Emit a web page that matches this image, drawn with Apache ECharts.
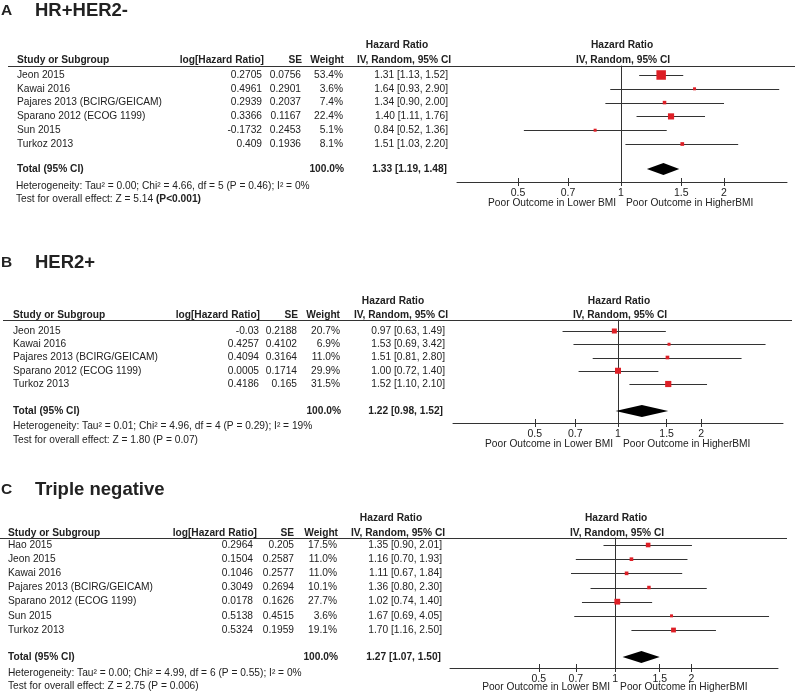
<!DOCTYPE html>
<html><head><meta charset="utf-8">
<script src="https://cdn.jsdelivr.net/npm/echarts@6/dist/echarts.min.js"></script>
<style>html,body{margin:0;padding:0;background:#fff}#c{width:796px;height:697px}</style>
</head><body><div id="c"></div>
<script>
// ---------------- DATA ----------------
const tickValues = [0.5, 0.7, 1, 1.5, 2];
const tickLabels = ['0.5', '0.7', '1', '1.5', '2'];
const leftOutcome = 'Poor Outcome in Lower BMI';
const rightOutcome = 'Poor Outcome in HigherBMI';

// Panel A: HR+HER2-
const studiesA = ['Jeon 2015', 'Kawai 2016', 'Pajares 2013 (BCIRG/GEICAM)', 'Sparano 2012 (ECOG 1199)', 'Sun 2015', 'Turkoz 2013'];
const logHrA = [0.2705, 0.4961, 0.2939, 0.3366, -0.1732, 0.409];
const seA = [0.0756, 0.2901, 0.2037, 0.1167, 0.2453, 0.1936];
const weightA = [53.4, 3.6, 7.4, 22.4, 5.1, 8.1];
const hrA = [1.31, 1.64, 1.34, 1.40, 0.84, 1.51];
const lowA = [1.13, 0.93, 0.90, 1.11, 0.52, 1.03];
const highA = [1.52, 2.90, 2.00, 1.76, 1.36, 2.20];
const totalA = [1.33, 1.19, 1.48];
const hetA = 'Heterogeneity: Tau² = 0.00; Chi² = 4.66, df = 5 (P = 0.46); I² = 0%';
const testA = ['Test for overall effect: Z = 5.14 ', '(P<0.001)'];

// Panel B: HER2+
const studiesB = ['Jeon 2015', 'Kawai 2016', 'Pajares 2013 (BCIRG/GEICAM)', 'Sparano 2012 (ECOG 1199)', 'Turkoz 2013'];
const logHrB = [-0.03, 0.4257, 0.4094, 0.0005, 0.4186];
const seB = [0.2188, 0.4102, 0.3164, 0.1714, 0.165];
const weightB = [20.7, 6.9, 11.0, 29.9, 31.5];
const hrB = [0.97, 1.53, 1.51, 1.00, 1.52];
const lowB = [0.63, 0.69, 0.81, 0.72, 1.10];
const highB = [1.49, 3.42, 2.80, 1.40, 2.10];
const totalB = [1.22, 0.98, 1.52];
const hetB = 'Heterogeneity: Tau² = 0.01; Chi² = 4.96, df = 4 (P = 0.29); I² = 19%';
const testB = ['Test for overall effect: Z = 1.80 (P = 0.07)', ''];

// Panel C: Triple negative
const studiesC = ['Hao 2015', 'Jeon 2015', 'Kawai 2016', 'Pajares 2013 (BCIRG/GEICAM)', 'Sparano 2012 (ECOG 1199)', 'Sun 2015', 'Turkoz 2013'];
const logHrC = [0.2964, 0.1504, 0.1046, 0.3049, 0.0178, 0.5138, 0.5324];
const seC = [0.205, 0.2587, 0.2577, 0.2694, 0.1626, 0.4515, 0.1959];
const weightC = [17.5, 11.0, 11.0, 10.1, 27.7, 3.6, 19.1];
const hrC = [1.35, 1.16, 1.11, 1.36, 1.02, 1.67, 1.70];
const lowC = [0.90, 0.70, 0.67, 0.80, 0.74, 0.69, 1.16];
const highC = [2.01, 1.93, 1.84, 2.30, 1.40, 4.05, 2.50];
const totalC = [1.27, 1.07, 1.50];
const hetC = 'Heterogeneity: Tau² = 0.00; Chi² = 4.99, df = 6 (P = 0.55); I² = 0%';
const testC = ['Test for overall effect: Z = 2.75 (P = 0.006)', ''];

// ---------------- LAYOUT ----------------
const FONT = 'Arial, "Liberation Sans", sans-serif';
const FS = 10.2;
const TXT = '#222';
const LINE = '#333';
const RED = '#dd1f26';

const panels = [
  { letter: 'A', title: 'HR+HER2-', studies: studiesA, logHr: logHrA, se: seA, w: weightA, hr: hrA, lo: lowA, hi: highA, total: totalA, het: hetA, test: testA,
    L: { titleY: 10.5, head1Y: 45, head2Y: 60, lineY: 66, lineX1: 8, lineX2: 795, row0: 75, step: 13.8, gap: 1.81, axisY: 182, hetY: 186, testY: 199, outY: 203,
         left: 457, right: 787, xMin: -1.104, xMax: 1.117, nameX: 17, hetX: 16, logHeadR: 264, logValR: 262, seHeadR: 302, seValR: 301, wHeadR: 344, wValR: 343,
         hrValR: 448, totHrR: 447, hrHead1C: 397, hrHead2C: 404, sqK: 1.3 } },
  { letter: 'B', title: 'HER2+', studies: studiesB, logHr: logHrB, se: seB, w: weightB, hr: hrB, lo: lowB, hi: highB, total: totalB, het: hetB, test: testB,
    L: { titleY: 263, head1Y: 301, head2Y: 315, lineY: 320, lineX1: 3, lineX2: 792, row0: 331, step: 13.25, gap: 2.04, axisY: 423, hetY: 426, testY: 440, outY: 444,
         left: 453, right: 783, xMin: -1.375, xMax: 1.375, nameX: 13, hetX: 13, logHeadR: 260, logValR: 259, seHeadR: 298, seValR: 297, wHeadR: 340, wValR: 340,
         hrValR: 445, totHrR: 443, hrHead1C: 393, hrHead2C: 401, sqK: 1.1 } },
  { letter: 'C', title: 'Triple negative', studies: studiesC, logHr: logHrC, se: seC, w: weightC, hr: hrC, lo: lowC, hi: highC, total: totalC, het: hetC, test: testC,
    L: { titleY: 490, head1Y: 518, head2Y: 533, lineY: 538, lineX1: 0, lineX2: 787, row0: 545, step: 14.17, gap: 1.9, axisY: 668, hetY: 673, testY: 686, outY: 687,
         left: 450, right: 778, xMin: -1.5, xMax: 1.48, nameX: 8, hetX: 8, logHeadR: 257, logValR: 253, seHeadR: 294, seValR: 294, wHeadR: 338, wValR: 337,
         hrValR: 442, totHrR: 441, hrHead1C: 391, hrHead2C: 398, sqK: 1.1 } }
];

const lnTicks = tickValues.map(Math.log);
function tickFmt(v) {
  let best = 0;
  lnTicks.forEach((t, k) => { if (Math.abs(t - v) < Math.abs(lnTicks[best] - v)) best = k; });
  return tickLabels[best];
}
const hrText = (e, l, h) => e.toFixed(2) + ' [' + l.toFixed(2) + ', ' + h.toFixed(2) + ']';

const chart = echarts.init(document.getElementById('c'), null, { renderer: 'canvas' });
const grid = [], xAxis = [], yAxis = [], series = [];

panels.forEach((p, i) => {
  const L = p.L;
  const n = p.studies.length;
  const totIdx = n - 1 + L.gap;
  grid.push({ left: L.left, width: L.right - L.left, top: L.lineY, height: L.axisY - L.lineY, containLabel: false });
  const xi = xAxis.length;
  xAxis.push({
    type: 'value', gridIndex: i, min: L.xMin, max: L.xMax, position: 'bottom',
    axisLine: { show: true, onZero: false, lineStyle: { color: LINE, width: 1 } },
    axisTick: { show: true, inside: false, length: 4, customValues: lnTicks, lineStyle: { color: LINE, width: 1 } },
    axisLabel: { show: true, customValues: lnTicks, formatter: tickFmt, margin: 5.5, color: TXT, fontSize: 10.5, fontFamily: FONT },
    splitLine: { show: false }
  });
  xAxis.push({
    type: 'value', gridIndex: i, min: L.xMin, max: L.xMax, position: 'bottom',
    axisLine: { show: false, onZero: false },
    axisTick: { show: true, inside: true, length: 4, customValues: lnTicks, lineStyle: { color: LINE, width: 1 } },
    axisLabel: { show: false },
    splitLine: { show: false }
  });
  yAxis.push({
    type: 'value', gridIndex: i, inverse: true,
    min: (L.lineY - L.row0) / L.step, max: (L.axisY - L.row0) / L.step,
    axisLine: { show: true, onZero: true, lineStyle: { color: LINE, width: 1 } },
    axisTick: { show: false }, axisLabel: { show: false }, splitLine: { show: false }
  });
  // whiskers
  series.push({
    type: 'custom', xAxisIndex: xi, yAxisIndex: i, z: 2,
    data: p.studies.map((s, r) => [Math.log(p.lo[r]), Math.log(p.hi[r]), r]),
    encode: { x: [0, 1], y: 2 },
    renderItem: (params, api) => {
      const a = api.coord([api.value(0), api.value(2)]);
      const b = api.coord([api.value(1), api.value(2)]);
      const y = Math.round(a[1]) + 0.5;
      return { type: 'line', shape: { x1: a[0], y1: y, x2: b[0], y2: y }, style: { stroke: LINE, lineWidth: 1 } };
    }
  });
  // squares
  series.push({
    type: 'scatter', xAxisIndex: xi, yAxisIndex: i, z: 3, symbol: 'rect',
    itemStyle: { color: RED, opacity: 1 },
    data: p.studies.map((s, r) => ({ value: [Math.log(p.hr[r]), r], symbolSize: Math.max(3, L.sqK * Math.sqrt(p.w[r])) }))
  });
  // diamond
  series.push({
    type: 'custom', xAxisIndex: xi, yAxisIndex: i, z: 3,
    data: [[Math.log(p.total[1]), Math.log(p.total[0]), Math.log(p.total[2]), totIdx]],
    encode: { x: [0, 1, 2], y: 3 },
    renderItem: (params, api) => {
      const lo = api.coord([api.value(0), api.value(3)]);
      const es = api.coord([api.value(1), api.value(3)]);
      const hi = api.coord([api.value(2), api.value(3)]);
      const h = 6;
      return { type: 'polygon', shape: { points: [[lo[0], lo[1]], [es[0], es[1] - h], [hi[0], hi[1]], [es[0], es[1] + h]] }, style: { fill: '#000' } };
    }
  });
});

chart.setOption({ animation: false, backgroundColor: '#fff', grid, xAxis, yAxis, series });

// ---------------- TEXT (table) ----------------
const graphic = [];
function txt(text, x, y, align, bold, size) {
  graphic.push({ type: 'text', x: x, y: y, silent: true,
    style: { text: text, align: align || 'left', verticalAlign: 'middle', fill: TXT,
             fontSize: size || FS, fontFamily: FONT, fontWeight: bold ? 'bold' : 'normal' } });
}
panels.forEach((p, i) => {
  const L = p.L;
  const xi = i * 2;
  const zeroX = chart.convertToPixel({ xAxisIndex: xi }, 0);
  const rowY = r => chart.convertToPixel({ yAxisIndex: i }, r);
  const totIdx = p.studies.length - 1 + L.gap;

  txt(p.letter, 1, L.titleY, 'left', true, 15.5);
  txt(p.title, 35, L.titleY, 'left', true, 18.5);

  txt('Hazard Ratio', L.hrHead1C, L.head1Y, 'center', true);
  txt('Hazard Ratio', zeroX + 1, L.head1Y, 'center', true);
  txt('Study or Subgroup', L.nameX, L.head2Y, 'left', true);
  txt('log[Hazard Ratio]', L.logHeadR, L.head2Y, 'right', true);
  txt('SE', L.seHeadR, L.head2Y, 'right', true);
  txt('Weight', L.wHeadR, L.head2Y, 'right', true);
  txt('IV, Random, 95% CI', L.hrHead2C, L.head2Y, 'center', true);
  txt('IV, Random, 95% CI', zeroX + 2, L.head2Y, 'center', true);

  graphic.push({ type: 'line', silent: true, shape: { x1: L.lineX1, y1: L.lineY + 0.5, x2: L.lineX2, y2: L.lineY + 0.5 }, style: { stroke: LINE, lineWidth: 1 } });

  p.studies.forEach((s, r) => {
    const y = rowY(r);
    txt(s, L.nameX, y, 'left');
    txt(String(p.logHr[r]), L.logValR, y, 'right');
    txt(String(p.se[r]), L.seValR, y, 'right');
    txt(p.w[r].toFixed(1) + '%', L.wValR, y, 'right');
    txt(hrText(p.hr[r], p.lo[r], p.hi[r]), L.hrValR, y, 'right');
  });
  const ty = rowY(totIdx);
  txt('Total (95% CI)', L.nameX, ty, 'left', true);
  txt('100.0%', L.wValR + 1, ty, 'right', true);
  txt(hrText(p.total[0], p.total[1], p.total[2]), L.totHrR, ty, 'right', true);

  txt(p.het, L.hetX, L.hetY, 'left');
  graphic.push({ type: 'text', x: L.hetX, y: L.testY, silent: true,
    style: { text: p.test[0] + (p.test[1] ? '{b|' + p.test[1] + '}' : ''), align: 'left', verticalAlign: 'middle', fill: TXT,
             fontSize: FS, fontFamily: FONT,
             rich: { b: { fontWeight: 'bold', fontSize: FS, fontFamily: FONT, fill: TXT, color: TXT } } } });

  txt(leftOutcome, zeroX - 5, L.outY + 0.5, 'right');
  txt(rightOutcome, zeroX + 5, L.outY + 0.5, 'left');
});
chart.setOption({ graphic: graphic });
</script>
</body></html>
